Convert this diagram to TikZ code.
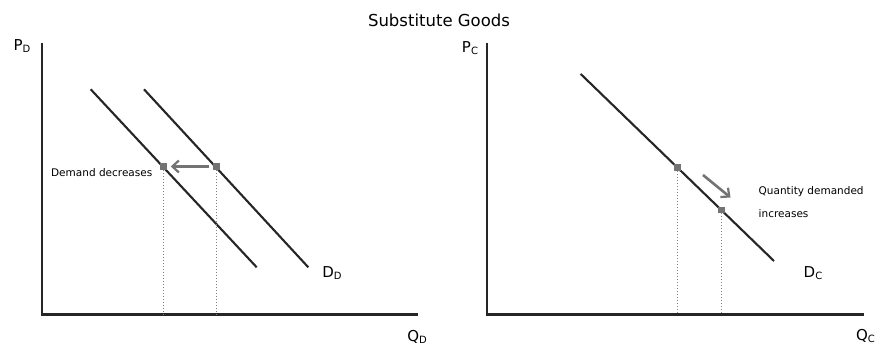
\documentclass[tikz,border=0pt]{standalone}
\usepackage{fontspec}
\setmainfont{DejaVu Sans}
\usetikzlibrary{arrows.meta}
\newcommand\subl[1]{\raisebox{-2pt}{\fontsize{10}{10}\selectfont #1}}
\tikzset{
  axis/.style={line width=2.4pt, draw=black!85},
  curve/.style={line width=2.1pt, draw=black!85},
  guide/.style={line width=1pt, draw=black!50, dotted},
  pt/.style={rectangle, fill=black!55, minimum size=6.5pt, inner sep=0pt},
  shift arrow/.style={line width=2.6pt, draw=black!55, -{Straight Barb[length=6.5pt,width=12pt,line width=2.2pt]}},
  axlabel/.style={font=\fontsize{15}{15}\selectfont, inner sep=0pt},
  small/.style={font=\fontsize{10.5}{12}\selectfont, inner sep=0pt},
}
\begin{document}
\begin{tikzpicture}[x=1pt,y=-1pt]
\useasboundingbox (0,0) rectangle (877,347);
\fill[white] (0,0) rectangle (877,347);
% title
\node[font=\fontsize{16.5}{18}\selectfont, inner sep=0pt] (title) at (439,20) {Substitute Goods};

% ---------- left panel ----------
\coordinate (lo) at (41.7,314.5);
\coordinate (ltop) at (41.7,43);
\coordinate (lend) at (417.5,314.5);
\draw[axis] (ltop) -- (lo) -- (lend);
\node[axlabel] (PD) at (22,46) {P\subl{D}};
\node[axlabel] (QD) at (417,337) {Q\subl{D}};

\coordinate (d1s) at (90.7,89.3);
\coordinate (d1e) at (256.7,267.3);
\coordinate (d2s) at (144,89.3);
\coordinate (d2e) at (308.3,267.3);
\draw[curve] (d1s) -- (d1e);
\draw[curve] (d2s) -- (d2e);
\node[axlabel] (DD) at (332,273) {D\subl{D}};

\node[pt] (pl) at (163.3,166.5) {};
\node[pt] (pr) at (216.5,166.5) {};
\coordinate (plx) at (163.3,314.5);
\coordinate (prx) at (216.5,314.5);
\draw[guide] (pl) -- (plx);
\draw[guide] (pr) -- (prx);
\draw[shift arrow] (pr.west) ++(-4,0) coordinate (as) (as) -- ([xshift=4pt]pl.east);
\node[small, anchor=east] (dd) at (152.5,172.5) {Demand decreases};

% ---------- right panel ----------
\coordinate (ro) at (486.7,314.3);
\coordinate (rtop) at (486.7,43);
\coordinate (rend) at (863.5,314.3);
\draw[axis] (rtop) -- (ro) -- (rend);
\node[axlabel] (PC) at (470,48) {P\subl{C}};
\node[axlabel, anchor=east] (QC) at (875,336.5) {Q\subl{C}};

\coordinate (cs) at (580.7,74);
\coordinate (ce) at (774,261);
\draw[curve] (cs) -- (ce);
\node[axlabel] (DC) at (813,273.5) {D\subl{C}};

\node[pt] (p1) at (677.5,167.5) {};
\node[pt] (p2) at (721.5,210) {};
\coordinate (p1x) at (677.5,314.3);
\coordinate (p2x) at (721.5,314.3);
\draw[guide] (p1) -- (p1x);
\draw[guide] (p2) -- (p2x);
\coordinate (qa) at (703,175);
\coordinate (qb) at (730.5,197.5);
\draw[shift arrow] (qa) -- (qb);
\node[small, anchor=west] (qd) at (758.5,191.5) {Quantity demanded};
\node[small, anchor=west] (qi) at (758.5,214) {increases};
\end{tikzpicture}
\end{document}
